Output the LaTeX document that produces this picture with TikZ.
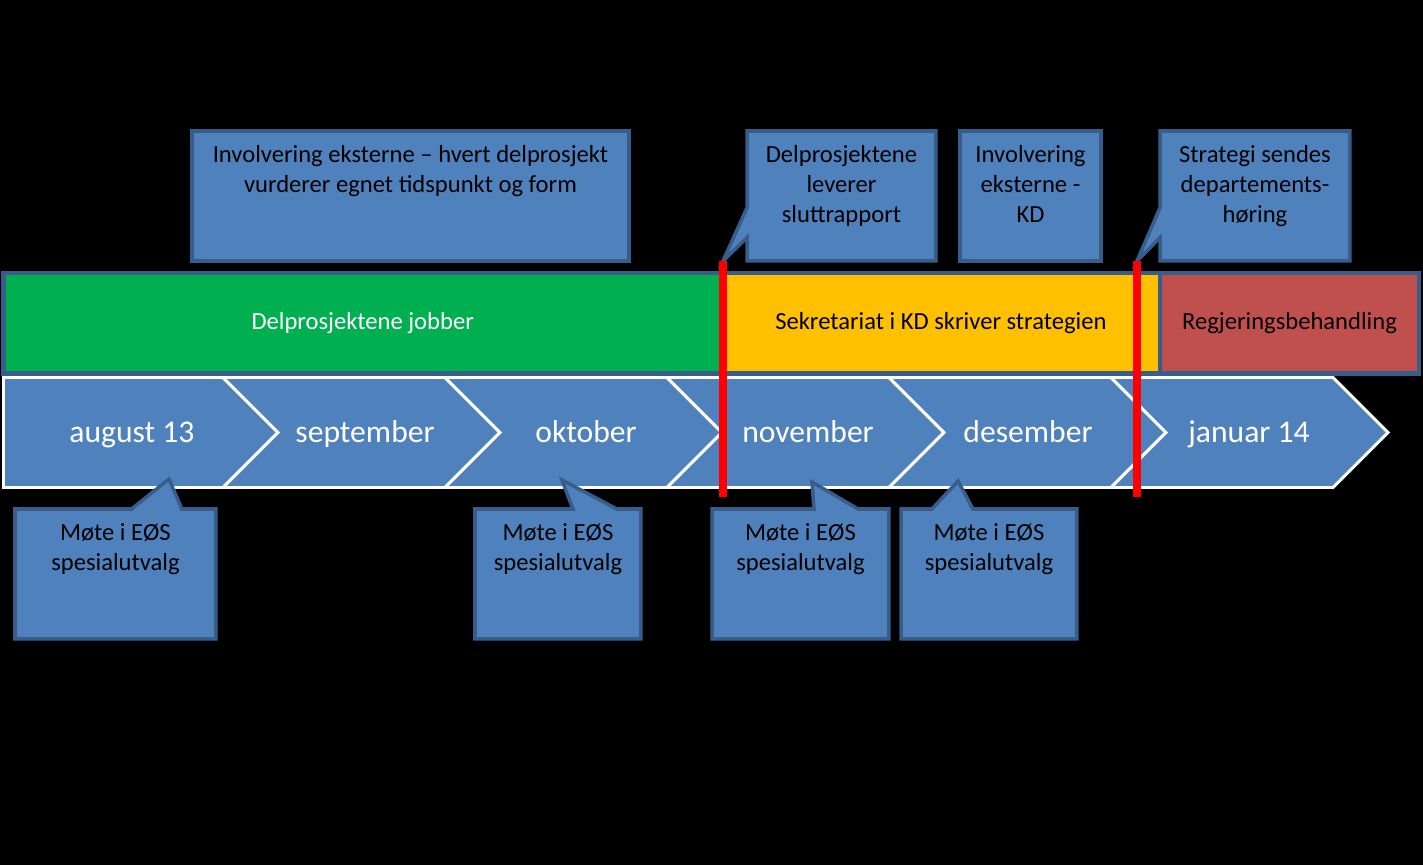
\documentclass[tikz,border=0pt]{standalone}
\usepackage{fontspec}
\setmainfont{Carlito}
\usetikzlibrary{positioning,calc}

\definecolor{boxblue}{HTML}{4F81BD}
\definecolor{boxline}{HTML}{385D8A}
\definecolor{bargreen}{HTML}{00B050}
\definecolor{baryellow}{HTML}{FFC000}
\definecolor{barred}{HTML}{C0504D}

\tikzset{
  bar/.style={draw=boxline, line width=2.3pt, outer sep=0pt, inner sep=0pt,
    minimum height=2.01cm, anchor=north west, font=\fontsize{14}{17}\selectfont},
  callbox/.style={fill=boxblue, draw=boxline, line width=2pt, outer sep=0pt,
    inner sep=0pt, minimum height=2.6cm, anchor=north west},
  calltext/.style={align=center, inner sep=0pt, font=\fontsize{14}{17}\selectfont},
  callline/.style={draw=boxline, line width=2pt, line join=miter},
  chev/.style={fill=boxblue, draw=white, line width=1.7pt, line join=miter},
  month/.style={text=white, anchor=base, font=\fontsize{18}{22}\selectfont},
  marker/.style={draw=red, line width=4.5pt},
}

\begin{document}
\begin{tikzpicture}[x=0.02cm,y=-0.02cm]
  \fill[black] (0,0) rectangle (1423,865);
  \useasboundingbox (0,0) rectangle (1423,865);

  % phase bars
  \node[bar, fill=bargreen, text=white, minimum width=14.37cm] (jobber) at (3.5,273) {Delprosjektene jobber};
  \node[bar, fill=baryellow, minimum width=8.76cm] (sekretariat) at (jobber.north east) {Sekretariat i KD skriver strategien};
  \node[bar, fill=barred, minimum width=5.19cm] (regjering) at (sekretariat.north east) {Regjeringsbehandling};

  % month chevrons
  \foreach \l/\r/\tx/\lab [count=\k] in {3.5/223/132/august 13, 223/445/365/september,
      445/667/586/oktober, 667/889/808/november, 889/1111/1028/desember, 1111/1333/1249/januar 14} {
    \ifnum\k=1
      \draw[chev] (\l,377.5) -- (\r,377.5) -- (\r+55,432.5) -- (\r,487.5) -- (\l,487.5) -- cycle;
    \else
      \draw[chev] (\l,377.5) -- (\r,377.5) -- (\r+55,432.5) -- (\r,487.5) -- (\l,487.5) -- (\l+55,432.5) -- cycle;
    \fi
    \node[month] (month\k) at (\tx,442) {\lab};
  }

  % milestones
  \coordinate (mark1) at (723,261);
  \coordinate (mark1end) at (723,497);
  \coordinate (mark2) at (1137,261);
  \coordinate (mark2end) at (1137,497);

  % callouts above the bars
  \node[callbox, minimum width=8.74cm] (ekstern) at (192,131) {};
  \node[calltext, below=0.2cm of ekstern.north] {\rule{0pt}{12pt}Involvering eksterne – hvert delprosjekt\\vurderer egnet tidspunkt og form};

  \node[callbox, draw=none, minimum width=3.78cm] (levert) at (747,131) {};
  \node[calltext, below=0.2cm of levert.north] {\rule{0pt}{12pt}Delprosjektene\\leverer\\sluttrapport};
  \fill[boxblue] ($(levert.north west)!.59!(levert.south west)$) -- (mark1)
    -- ($(levert.north west)!.82!(levert.south west)$) -- cycle;
  \draw[callline] (levert.north west) -- ($(levert.north west)!.59!(levert.south west)$) -- (mark1)
    -- ($(levert.north west)!.82!(levert.south west)$) -- (levert.south west)
    -- (levert.south east) -- (levert.north east) -- cycle;

  \node[callbox, minimum width=2.82cm] (kd) at (960,131) {};
  \node[calltext, below=0.2cm of kd.north] {\rule{0pt}{12pt}Involvering\\eksterne -\\KD};

  \node[callbox, draw=none, minimum width=3.8cm] (horing) at (1160,131) {};
  \node[calltext, below=0.2cm of horing.north] {\rule{0pt}{12pt}Strategi sendes\\departements-\\høring};
  \fill[boxblue] ($(horing.north west)!.59!(horing.south west)$) -- (mark2)
    -- ($(horing.north west)!.82!(horing.south west)$) -- cycle;
  \draw[callline] (horing.north west) -- ($(horing.north west)!.59!(horing.south west)$) -- (mark2)
    -- ($(horing.north west)!.82!(horing.south west)$) -- (horing.south west)
    -- (horing.south east) -- (horing.north east) -- cycle;

  % meetings below the months
  \foreach \k/\x/\w/\a/\b/\tipx/\tipy in {1/15/4.02/.58/.83/169/479, 2/475/3.32/.59/.855/562/480,
      3/712/3.54/.576/.825/812/482, 4/901/3.52/.176/.409/958/481} {
    \node[callbox, draw=none, minimum width=\w cm] (meet\k) at (\x,509) {};
    \node[calltext, below=0.2cm of meet\k.north] {\rule{0pt}{12pt}Møte i EØS\\spesialutvalg};
    \coordinate (tip\k) at (\tipx,\tipy);
    \fill[boxblue] ($(meet\k.north west)!\a!(meet\k.north east)$) -- (tip\k)
      -- ($(meet\k.north west)!\b!(meet\k.north east)$) -- cycle;
    \draw[callline] (meet\k.north west) -- ($(meet\k.north west)!\a!(meet\k.north east)$) -- (tip\k)
      -- ($(meet\k.north west)!\b!(meet\k.north east)$) -- (meet\k.north east)
      -- (meet\k.south east) -- (meet\k.south west) -- cycle;
  }

  \draw[marker] (mark1) -- (mark1end);
  \draw[marker] (mark2) -- (mark2end);
\end{tikzpicture}
\end{document}
